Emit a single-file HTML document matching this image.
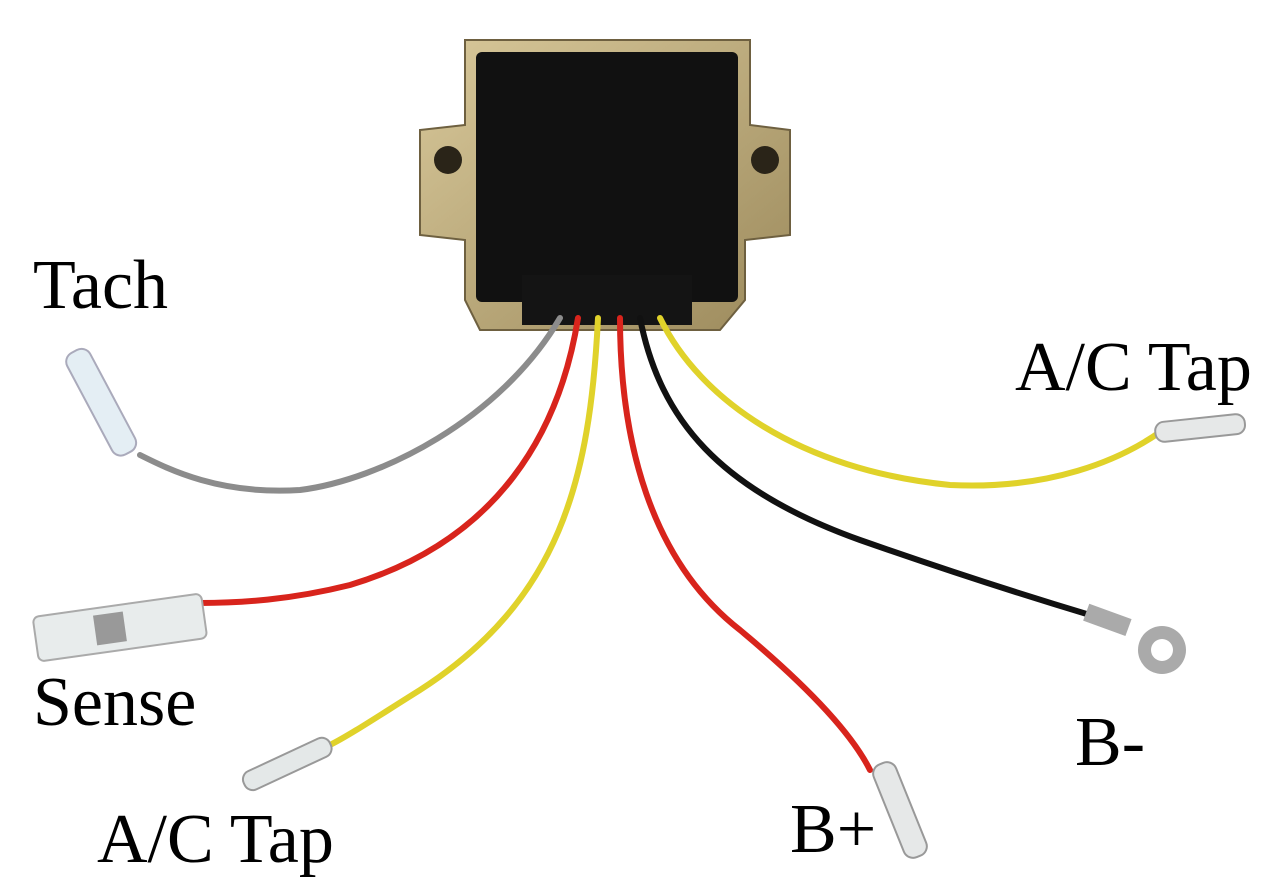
<!DOCTYPE html>
<html><head><meta charset="utf-8"><style>
html,body{margin:0;padding:0;background:#fff;}
svg{display:block}
text{font-family:"Liberation Serif",serif;font-size:70px;fill:#000}
</style></head><body>
<svg width="1280" height="895" viewBox="0 0 1280 895">
<defs>
<linearGradient id="g" x1="0" y1="0" x2="1" y2="1"><stop offset="0" stop-color="#d8c89a"/><stop offset="1" stop-color="#9c8a5c"/></linearGradient>
</defs>
<path d="M465 40 L750 40 L750 125 L790 130 L790 235 L745 240 L745 300 L720 330 L480 330 L465 300 L465 240 L420 235 L420 130 L465 125 Z" fill="url(#g)" stroke="#6e6040" stroke-width="2"/>
<circle cx="448" cy="160" r="14" fill="#2a2418"/>
<circle cx="765" cy="160" r="14" fill="#2a2418"/>
<rect x="476" y="52" width="262" height="250" rx="6" fill="#111"/>
<rect x="522" y="275" width="170" height="50" fill="#141414"/>
<g fill="none" stroke-width="6" stroke-linecap="round">
<path d="M560 318 C500 420 380 480 300 490 C220 495 170 470 140 455" stroke="#8c8c8c"/>
<path d="M578 318 C560 430 500 540 350 585 C290 600 240 603 200 603" stroke="#d8241c"/>
<path d="M598 318 C590 480 560 600 420 690 C380 715 350 735 330 745" stroke="#e0d22a"/>
<path d="M620 318 C620 440 650 560 740 630 C800 680 850 730 870 770" stroke="#d8241c"/>
<path d="M640 318 C660 420 720 490 860 540 C960 575 1040 600 1090 615" stroke="#111"/>
<path d="M660 318 C700 400 800 470 950 485 C1050 490 1120 460 1160 432" stroke="#e0d22a"/>
</g>
<g transform="rotate(62 100 400)"><rect x="45" y="387" width="115" height="26" rx="10" fill="#e4eef4" stroke="#aab" stroke-width="2"/></g>
<g transform="rotate(-8 120 628)"><rect x="35" y="605" width="170" height="45" rx="6" fill="#e8ecec" stroke="#aaa" stroke-width="2"/><rect x="95" y="612" width="30" height="30" fill="#999"/></g>
<g transform="rotate(-25 285 765)"><rect x="240" y="755" width="95" height="20" rx="9" fill="#e4e8e8" stroke="#999" stroke-width="2"/></g>
<g transform="rotate(68 900 810)"><rect x="850" y="798" width="100" height="24" rx="10" fill="#e6e8e8" stroke="#999" stroke-width="2"/></g>
<g transform="rotate(-6 1200 427)"><rect x="1155" y="418" width="90" height="20" rx="9" fill="#e6e8e8" stroke="#999" stroke-width="2"/></g>
<rect x="1085" y="610" width="45" height="18" fill="#aaa" transform="rotate(20 1105 619)"/>
<circle cx="1162" cy="650" r="24" fill="#aaa"/><circle cx="1162" cy="650" r="11" fill="#fff"/>
<text x="33" y="308">Tach</text>
<text x="33" y="725">Sense</text>
<text x="97" y="862">A/C Tap</text>
<text x="790" y="852">B+</text>
<text x="1075" y="765">B-</text>
<text x="1015" y="390">A/C Tap</text>
</svg>
</body></html>
